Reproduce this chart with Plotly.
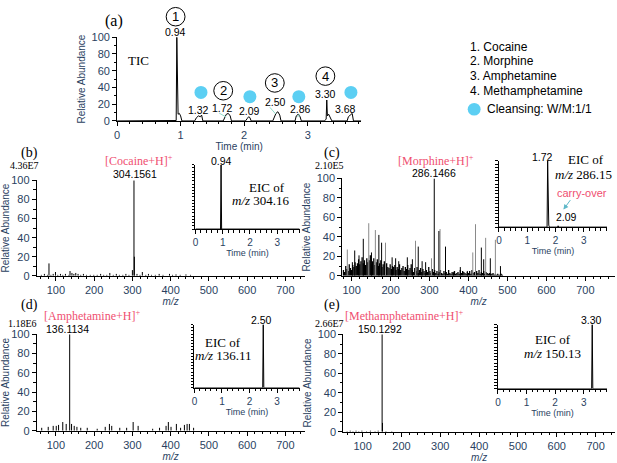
import plotly.graph_objects as go

W, H = 617, 463


def px(x):
    return x / W


def py(y):
    return 1 - y / H


SANS = "Arial, 'Liberation Sans', sans-serif"
SERIF = "'Times New Roman', 'Liberation Serif', serif"
PINK = "#ef4f70"
CYAN = "#5ccff3"

# (a) total ion chromatogram
tic_time = [0, 0.90, 0.93, 0.94, 0.95, 0.96, 0.98, 1.00, 1.02, 1.22, 1.25, 1.28, 1.31, 1.33, 1.35,
            1.67, 1.70, 1.72, 1.75, 1.78, 1.80, 2.02, 2.05, 2.07, 2.09, 2.11, 2.45, 2.48, 2.50, 2.53,
            2.56, 2.58, 2.80, 2.82, 2.85, 2.88, 2.90, 3.26, 3.29, 3.30, 3.31, 3.33, 3.36, 3.38, 3.62,
            3.64, 3.67, 3.70, 3.72, 3.85]
tic_abund = [0, 0, 0.5, 100, 10, 8, 9, 6, 0, 0, 4, 6, 5, 7, 0,
             0, 5, 8, 9, 6, 0, 0, 3, 5, 4, 0, 0, 6, 9, 11,
             7, 0, 0, 6, 8, 5, 0, 0, 2, 25, 6, 8, 3, 0, 0,
             5, 7, 9, 0, 0]
clean_time = [1.32, 2.09, 2.86, 3.68]
clean_y = [34, 29, 29, 34]
legend_items = ["1. Cocaine", "2. Morphine", "3. Amphetamine", "4. Methamphetamine"]

# (b) cocaine spectrum
b_mz = [62, 70, 78, 82, 87, 93, 99, 105, 112, 118, 125, 134, 137, 142, 147, 152, 158, 165, 172, 180,
        190, 199, 208, 217, 225, 233, 241, 250, 258, 266, 275, 283, 291, 300, 304.16, 305.2, 312, 320,
        326, 335, 342, 350, 360, 370, 380, 397, 405, 414, 425, 440, 452]
b_int = [1, 2, 1, 13, 1, 2, 4, 1, 2, 1, 2, 1, 5, 3, 2, 3, 2, 1, 2, 1,
         1, 1, 1, 2, 1, 1, 3, 1, 2, 1, 1, 2, 1, 6, 100, 20, 2, 1,
         4, 1, 2, 1, 1, 2, 1, 2, 1, 1.5, 1, 1.5, 1]
b_eic_time = [0, 0.92, 0.94, 0.96, 3.82]
b_eic = [0, 0, 100, 0, 0]

# (c) morphine spectrum
c_dense_mz = [53, 56, 59, 62, 65, 68, 71, 74,
              77, 80, 83, 86, 89, 92, 95, 98, 101, 104, 107, 110, 113, 116, 119, 122, 125,
              128, 131, 134, 137, 140, 143, 146, 149, 152, 155, 158, 161, 164, 167, 170, 173,
              176, 179, 182, 185, 188, 191, 194, 197, 200, 203, 206, 209, 212, 215, 218, 221, 224,
              227, 230, 233, 236, 239, 242, 245, 248, 251, 254, 257, 260, 263, 266, 269, 272,
              275, 278, 281, 284, 287, 290, 293, 296, 299, 302, 305, 308, 311, 314, 317, 320, 323,
              326, 329, 332, 335, 338, 341, 344, 347, 350, 353, 356, 359, 362, 365, 368, 371,
              374, 377, 380, 383, 386, 389, 392, 395, 398, 401, 404, 407, 410, 413, 416, 419, 422,
              425, 428, 431, 434, 437, 440, 443, 446, 449, 452, 455, 458, 461, 464]
c_dense_int = [6, 4, 10, 7, 5, 12, 8, 6,
               11, 9, 14, 10, 13, 17, 12, 15, 19, 13, 16, 11, 18, 14, 16, 21, 12,
               15, 18, 11, 14, 17, 10, 13, 16, 9, 12, 15, 11, 13, 9, 8, 12,
               7, 10, 9, 11, 6, 9, 7, 12, 6, 8, 10, 5, 9, 7, 11, 6,
               8, 12, 6, 4, 8, 5, 9, 3, 6, 8, 4, 7, 5, 3, 6, 4,
               9, 5, 3, 7, 4, 6, 3, 5, 2, 4, 6, 3, 2, 5, 3, 4, 2,
               6, 3, 2, 4, 3, 5, 2, 3, 4, 2, 6, 3, 5, 4, 3, 2,
               4, 3, 5, 2, 6, 3, 4, 2, 5, 3, 6, 2, 4, 3, 5, 2, 4,
               3, 2, 3, 2, 2, 3, 1, 2, 1, 2, 1, 1, 2, 1]
c_black_mz = [76, 82, 93, 104, 125, 144, 151, 178, 187, 195, 217, 230, 245, 255, 264,
              286.15, 298, 315, 336, 353, 371, 407, 413, 430, 456]
c_black_int = [14, 26, 21, 38, 24, 42, 34, 19, 18, 15, 19, 17, 30, 15, 14,
               100, 46, 30, 4, 9, 5, 29, 17, 18, 10]
c_gray_mz = [63, 118, 135, 161, 238, 279, 301, 385, 392, 418, 443]
c_gray_int = [27, 54, 47, 34, 36, 18, 48, 24, 53, 39, 37]
c_tick_vals = [74, 174, 274, 374, 474, 574, 674]
c_tick_text = ["100", "200", "300", "400", "500", "600", "700"]
c_eic_time = [0, 1.70, 1.72, 1.74, 1.76, 1.78, 2.07, 2.09, 2.11, 3.82]
c_eic = [0, 0, 100, 8, 3, 0, 0, 2, 0, 0]

# (d) amphetamine spectrum
d_mz = [63, 80, 93, 101, 107, 118, 127, 136.11, 141, 148, 155, 165, 182, 208, 229, 240, 246, 267,
        285, 302, 315, 353, 371, 388, 394, 401, 415, 426, 436, 443, 449, 460]
d_int = [3, 4, 5, 5, 6, 9, 7, 100, 7, 5, 4, 3, 3, 2, 4, 7, 5, 3,
         3, 9, 5, 2, 3, 5, 9, 4, 7, 3, 6, 7, 7, 3]
d_eic_time = [0, 2.48, 2.50, 2.52, 3.82]
d_eic = [0, 0, 100, 0, 0]

# (e) methamphetamine spectrum
e_mz = [60, 68, 75, 83, 90, 98, 110, 120, 132, 140, 150.13, 151.1, 160, 175]
e_int = [0.5, 1, 0.5, 1, 0.5, 1, 0.5, 1, 0.5, 1, 100, 9, 0.5, 0.5]
e_eic_time = [0, 3.28, 3.30, 3.32, 3.82]
e_eic = [0, 0, 100, 0, 0]


def sticks(mz, inten):
    xs, ys = [], []
    for m, v in zip(mz, inten):
        xs += [m, m, None]
        ys += [0, v, None]
    return xs, ys


def stick_trace(mz, inten, ax, color="black", width=1):
    xs, ys = sticks(mz, inten)
    return go.Scatter(x=xs, y=ys, mode="lines", line=dict(color=color, width=width),
                      xaxis="x" + ax, yaxis="y" + ax, hoverinfo="skip")


def line_trace(x, y, ax):
    return go.Scatter(x=x, y=y, mode="lines", line=dict(color="black", width=1),
                      xaxis="x" + ax, yaxis="y" + ax, hoverinfo="skip")


fig = go.Figure()
fig.add_trace(line_trace(tic_time, tic_abund, ""))
fig.add_trace(go.Scatter(x=clean_time, y=clean_y, mode="markers", xaxis="x", yaxis="y",
                         marker=dict(size=13, color=CYAN), hoverinfo="skip"))

fig.add_trace(stick_trace(b_mz, b_int, "2"))
fig.add_trace(line_trace(b_eic_time, b_eic, "3"))
fig.add_trace(stick_trace(c_dense_mz, c_dense_int, "4", width=1.3))
fig.add_trace(stick_trace(c_gray_mz, c_gray_int, "4", "#8a8a8a"))
fig.add_trace(stick_trace(c_black_mz, c_black_int, "4"))
fig.add_trace(line_trace(c_eic_time, c_eic, "5"))
fig.add_trace(stick_trace(d_mz, d_int, "6"))
fig.add_trace(line_trace(d_eic_time, d_eic, "7"))
fig.add_trace(stick_trace(e_mz, e_int, "8"))
fig.add_trace(line_trace(e_eic_time, e_eic, "9"))


def xaxis(x0, x1, anchor, rng, dtick, minor, title, size):
    return dict(domain=[px(x0), px(x1)], anchor=anchor, range=rng, dtick=dtick, tick0=0,
                ticks="outside", ticklen=4, tickcolor="black", showline=True, linecolor="black",
                linewidth=1, showgrid=False, zeroline=False, tickfont=dict(family=SANS, size=size),
                minor=dict(dtick=minor, ticks="outside", ticklen=2.5, tickcolor="black"),
                title=dict(text=title, font=dict(family=SANS, size=size - 1), standoff=2))


def yaxis(y_top, y_bot, anchor, labels=True, title=None):
    d = dict(domain=[py(y_bot), py(y_top)], anchor=anchor, range=[0, 100], showline=True,
             linecolor="black", linewidth=1, showgrid=False, zeroline=False, ticks="outside",
             tickcolor="black", fixedrange=True)
    if labels:
        d.update(dtick=20, ticklen=4, tickfont=dict(family=SANS, size=11),
                 minor=dict(dtick=10, ticks="outside", ticklen=2.5, tickcolor="black"),
                 title=dict(text=title, font=dict(family=SANS, size=10), standoff=4))
    else:
        d.update(dtick=5, ticklen=2.5, showticklabels=False)
    return d


layout = dict(width=W, height=H, margin=dict(l=0, r=0, t=0, b=0), showlegend=False,
              paper_bgcolor="white", plot_bgcolor="rgba(0,0,0,0)")

layout["xaxis"] = xaxis(113, 359, "y", [0, 3.84], 1, 0.2, "Time (min)", 11)
layout["yaxis"] = yaxis(32, 118, "x", True, "Relative Abundance")

main = [("2", 32, 302, 179, 277), ("4", 340, 615, 177, 277),
        ("6", 32, 302, 337, 436), ("8", 341, 615, 337, 437)]
insets = [("3", 192, 297, 163, 229), ("5", 498, 607, 159, 227),
          ("7", 191, 297, 327, 392), ("9", 497, 607, 327, 393)]
for n, x0, x1, yt, yb in main:
    layout["xaxis" + n] = xaxis(x0, x1, "y" + n, [50, 750], 100, 20, "<i>m/z</i>", 11)
    layout["yaxis" + n] = yaxis(yt, yb, "x" + n, True, "Relative Abundance")
for n, x0, x1, yt, yb in insets:
    layout["xaxis" + n] = xaxis(x0, x1, "y" + n, [0, 3.82], 1, 0.2, "Time (min)", 10)
    layout["yaxis" + n] = yaxis(yt, yb, "x" + n, False)

# tick labels of (c) sit offset from the data in the original figure
layout["xaxis4"].update(tickmode="array", tickvals=c_tick_vals, ticktext=c_tick_text)
layout["xaxis4"]["minor"].update(tick0=14)

fig.update_layout(**layout)


def note(x, y, text, size, family=SANS, color="black", xanchor="center"):
    fig.add_annotation(x=px(x), y=py(y), xref="paper", yref="paper", text=text, showarrow=False,
                       xanchor=xanchor, yanchor="middle", font=dict(family=family, size=size, color=color))


# panel (a)
note(110, 15, "(a)", 16, SERIF)
note(135, 56, "TIC", 13, SERIF)
for x, y, t in [(172, 27, "0.94"), (195, 107, "1.32"), (219, 105, "1.72"), (247, 108, "2.09"),
                (273, 99, "2.50"), (298, 106, "2.86"), (323, 90, "3.30"), (343, 106, "3.68")]:
    note(x, y, t, 10.5)
for (x0, y0, x1, y1) in [(216, 110, 223, 114), (267, 104, 273, 111), (297, 111, 295, 114)]:
    fig.add_shape(type="line", xref="paper", yref="paper", x0=px(x0), y0=py(y0), x1=px(x1), y1=py(y1),
                  line=dict(color="#8fdcc8", width=1))
for (cx, cy), num in zip([(172, 11), (220, 87), (272, 79), (323, 72)], ["1", "2", "3", "4"]):
    fig.add_shape(type="circle", xref="paper", yref="paper", x0=px(cx - 9.5), x1=px(cx + 9.5),
                  y0=py(cy + 9.5), y1=py(cy - 9.5), line=dict(color="black", width=1))
    note(cx, cy, num, 13)
for i, item in enumerate(legend_items):
    note(467, [42, 56, 72, 87][i], item, 12, xanchor="left")
fig.add_shape(type="circle", xref="paper", yref="paper", x0=px(466.5), x1=px(479.5),
              y0=py(112.5), y1=py(99.5), fillcolor=CYAN, line=dict(width=0))
note(484, 106, "Cleansing: W/M:1/1", 12, xanchor="left")

# panel (b)
note(25, 151, "(b)", 14, SERIF)
note(20, 164, "4.36E7", 10, SERIF)
note(135, 159, "[Cocaine+H]<sup>+</sup>", 12, SERIF, PINK)
note(131, 172, "304.1561", 10.5)
note(218, 159, "0.94", 10.5)
note(264, 186, "EIC of", 13, SERIF)
note(258, 200, "<i>m/z</i> 304.16", 13, SERIF)

# panel (c)
note(330, 151, "(c)", 14, SERIF)
note(327, 164, "2.10E5", 10, SERIF)
note(435, 159, "[Morphine+H]<sup>+</sup>", 12, SERIF, PINK)
note(433, 171, "286.1466", 10.5)
note(542, 155, "1.72", 10.5)
note(606, 158, "EIC of", 13, SERIF, xanchor="right")
note(614, 173, "<i>m/z</i> 286.15", 13, SERIF, xanchor="right")
note(609, 192, "carry-over", 11, SANS, PINK, xanchor="right")
note(566, 217, "2.09", 10.5)
fig.add_annotation(x=px(563), y=py(209), xref="paper", yref="paper", ax=8, ay=-11, text="",
                   showarrow=True, arrowhead=2, arrowsize=1, arrowwidth=1, arrowcolor="#5fb8c8")

# panel (d)
note(25, 307, "(d)", 14, SERIF)
note(88, 318, "[Amphetamine+H]<sup>+</sup>", 12, SERIF, PINK)
note(18, 326, "1.18E6", 10, SERIF)
note(63, 332, "136.1134", 10.5)
note(259, 322, "2.50", 10.5)
note(220, 345, "EIC of", 13, SERIF)
note(220, 359, "<i>m/z</i> 136.11", 13, SERIF)

# panel (e)
note(330, 307, "(e)", 14, SERIF)
note(402, 318, "[Methamphetamine+H]<sup>+</sup>", 12, SERIF, PINK)
note(327, 326, "2.66E7", 10, SERIF)
note(378, 332, "150.1292", 10.5)
note(591, 322, "3.30", 10.5)
note(552, 342, "EIC of", 13, SERIF)
note(552, 357, "<i>m/z</i> 150.13", 13, SERIF)

fig.write_html("out.html", config={"displayModeBar": False},
               post_script="document.body.style.margin='0';")
